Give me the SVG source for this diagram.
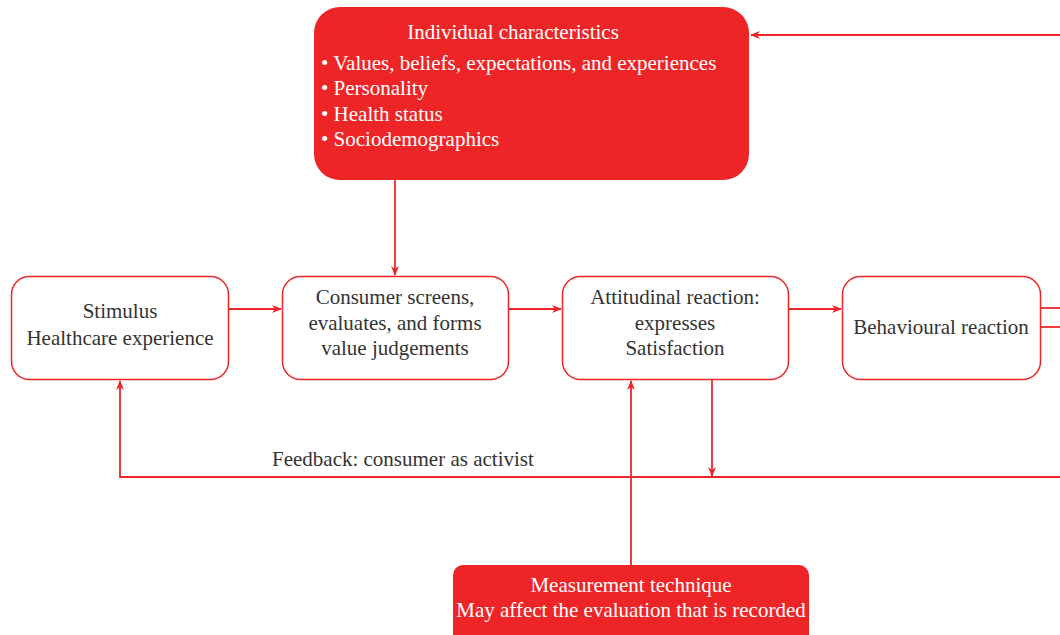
<svg xmlns="http://www.w3.org/2000/svg" width="1060" height="635" viewBox="0 0 1060 635">
<style>
.red{fill:#ee2527;}
.box{fill:#fff;stroke:#ee2527;stroke-width:1.5;}
.t{font-family:"Liberation Serif",serif;font-size:21px;fill:#333;}
.w{font-family:"Liberation Serif",serif;font-size:21px;fill:#fff;}
.c{stroke:#ee2527;stroke-width:1.8;fill:none;}
</style>
<defs>
<marker id="ah" markerWidth="10" markerHeight="8" refX="9" refY="4" orient="auto" markerUnits="userSpaceOnUse">
<path d="M0,0 L10,4 L0,8 L3,4 Z" fill="#ee2527"/>
</marker>
</defs>
<rect width="1060" height="635" fill="#fff"/>
<g id="connectors">
<line class="c" x1="1060" y1="35" x2="751" y2="35" marker-end="url(#ah)"/>
<line class="c" x1="395" y1="180" x2="395" y2="275" marker-end="url(#ah)"/>
<line class="c" x1="229" y1="309" x2="281" y2="309" marker-end="url(#ah)"/>
<line class="c" x1="509" y1="309" x2="561" y2="309" marker-end="url(#ah)"/>
<line class="c" x1="789" y1="309" x2="841" y2="309" marker-end="url(#ah)"/>
<line class="c" x1="1040" y1="308" x2="1060" y2="308"/>
<line class="c" x1="1040" y1="327" x2="1060" y2="327"/>
<polyline class="c" points="1060,477 120,477 120,381" marker-end="url(#ah)"/>
<line class="c" x1="712" y1="380" x2="712" y2="476" marker-end="url(#ah)"/>
<line class="c" x1="631" y1="565" x2="631" y2="381" marker-end="url(#ah)"/>
<text class="t" x="272" y="466">Feedback: consumer as activist</text>
</g>
<g id="individual">
<rect class="red" x="314" y="7" width="435" height="173" rx="26"/>
<text class="w" x="513" y="39" text-anchor="middle">Individual characteristics</text>
<text class="w" x="321" y="70">• Values, beliefs, expectations, and experiences</text>
<text class="w" x="321" y="95">• Personality</text>
<text class="w" x="321" y="121">• Health status</text>
<text class="w" x="321" y="146">• Sociodemographics</text>
</g>
<g id="stimulus">
<rect class="box" x="11.5" y="276.5" width="217" height="103" rx="18"/>
<text class="t" x="120" y="318" text-anchor="middle">Stimulus</text>
<text class="t" x="120" y="345" text-anchor="middle">Healthcare experience</text>
</g>
<g id="consumer">
<rect class="box" x="282.5" y="276.5" width="226" height="103" rx="18"/>
<text class="t" x="395" y="304" text-anchor="middle">Consumer screens,</text>
<text class="t" x="395" y="330" text-anchor="middle">evaluates, and forms</text>
<text class="t" x="395" y="355" text-anchor="middle">value judgements</text>
</g>
<g id="attitudinal">
<rect class="box" x="562.5" y="276.5" width="226" height="103" rx="18"/>
<text class="t" x="675" y="304" text-anchor="middle">Attitudinal reaction:</text>
<text class="t" x="675" y="330" text-anchor="middle">expresses</text>
<text class="t" x="675" y="355" text-anchor="middle">Satisfaction</text>
</g>
<g id="behavioural">
<rect class="box" x="842.5" y="276.5" width="198" height="103" rx="18"/>
<text class="t" x="941" y="334" text-anchor="middle">Behavioural reaction</text>
</g>
<g id="measurement">
<rect class="red" x="453" y="565" width="356" height="90" rx="10"/>
<text class="w" x="631" y="592" text-anchor="middle">Measurement technique</text>
<text class="w" x="631" y="617" text-anchor="middle">May affect the evaluation that is recorded</text>
</g>
</svg>
